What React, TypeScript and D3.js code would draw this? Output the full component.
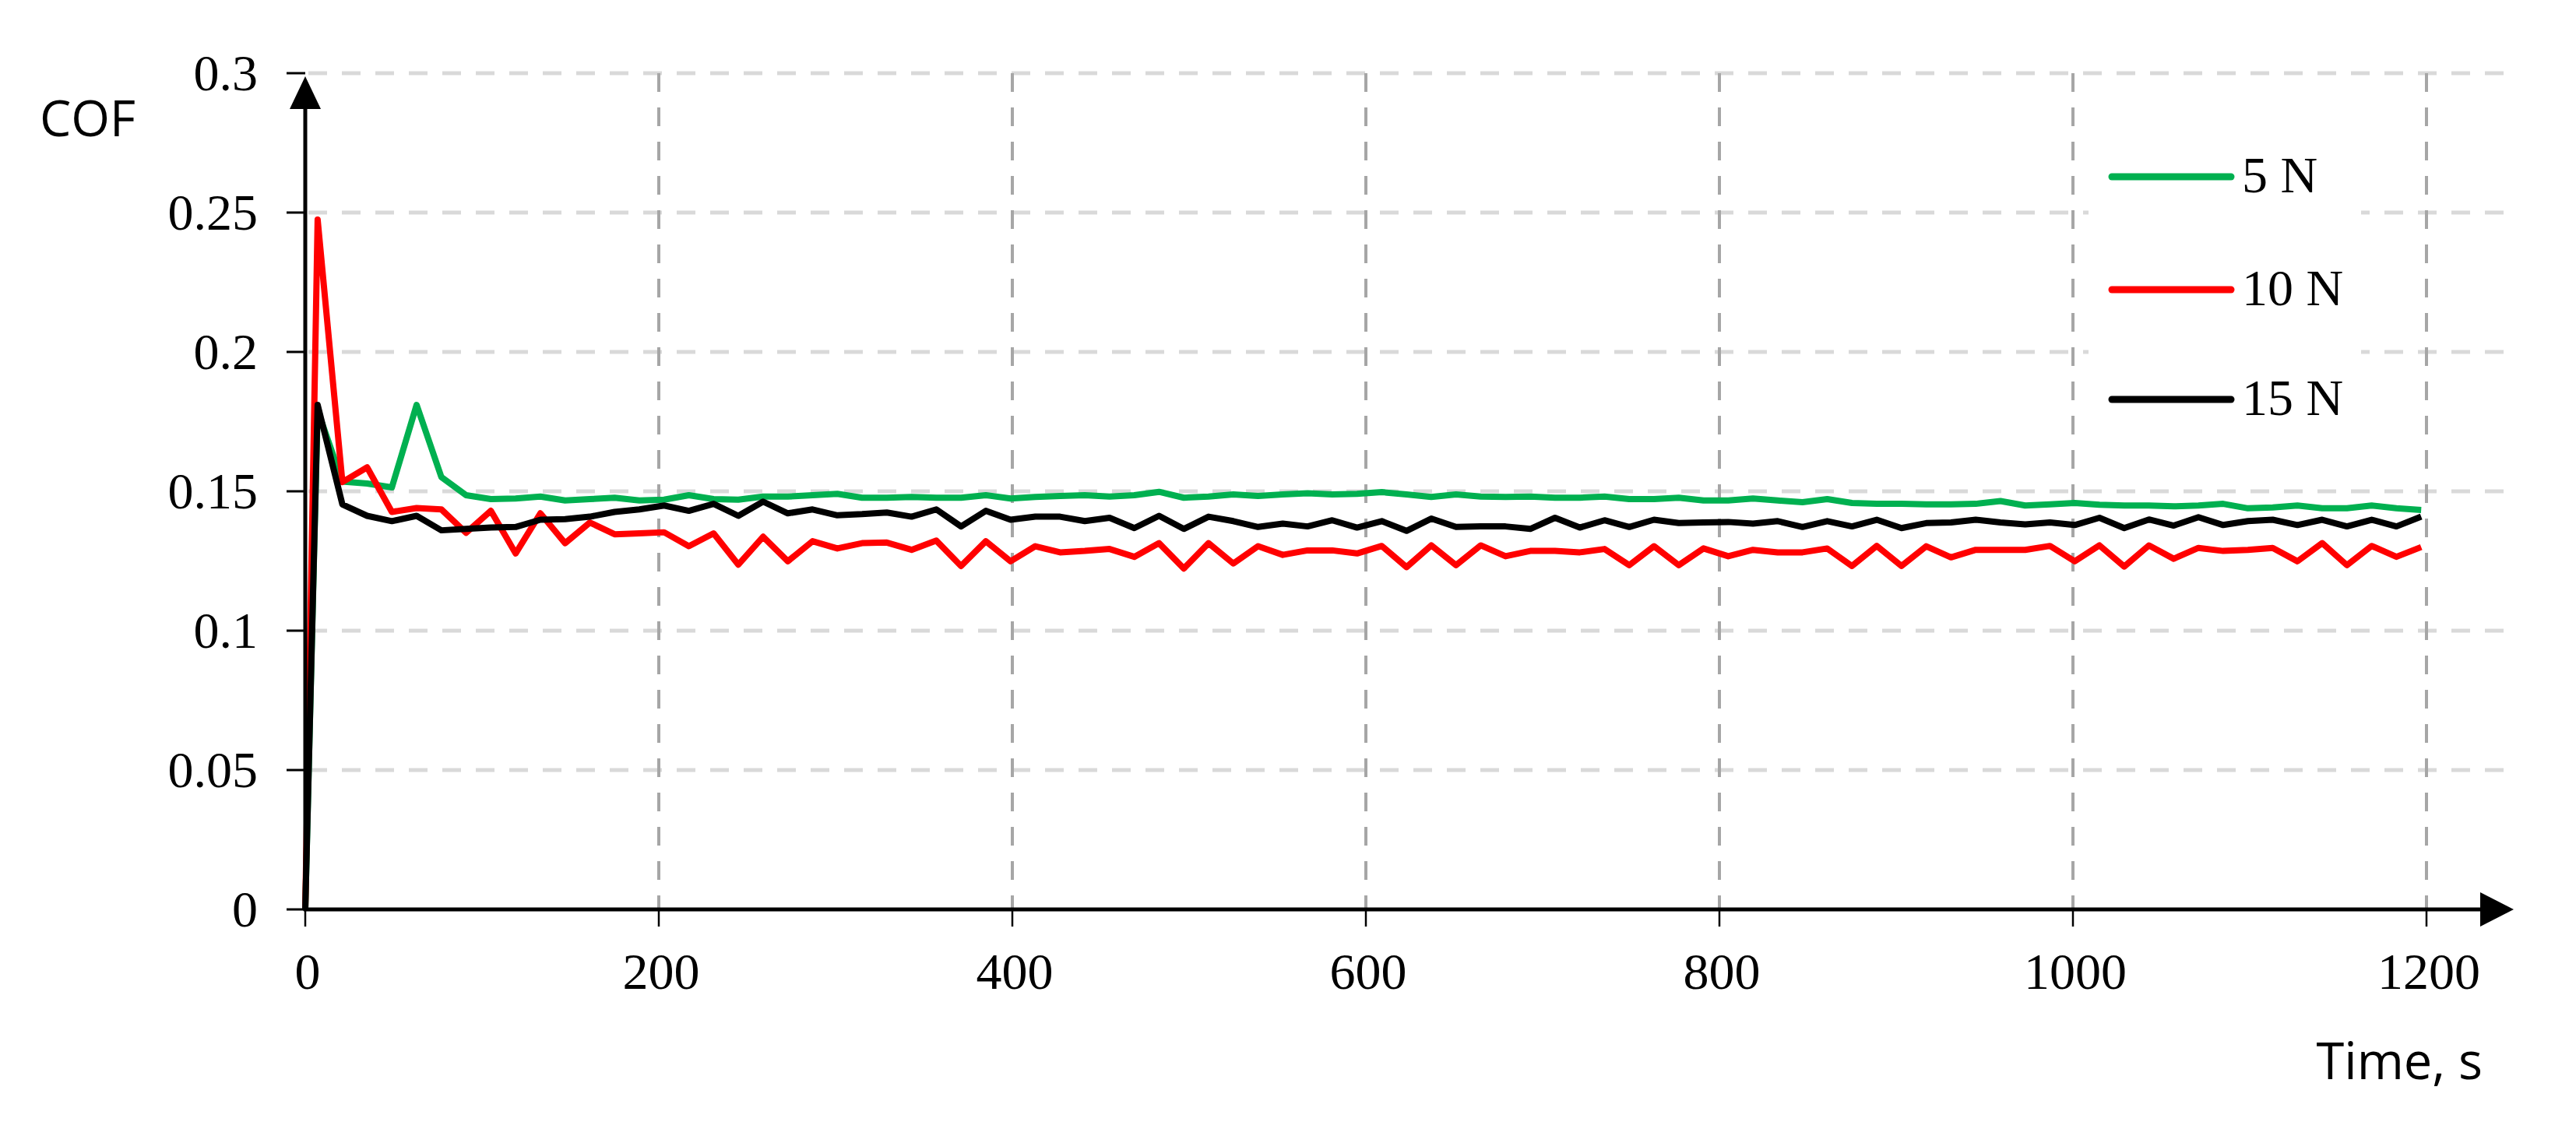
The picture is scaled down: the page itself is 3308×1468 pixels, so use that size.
import * as d3 from "d3";
import { useEffect, useRef } from "react";

// sample times, s
const times = [0, 7, 21, 35, 49, 63, 77, 91, 105, 119, 133, 147, 161, 175, 189, 203, 217, 231, 245, 259, 273, 287, 301, 315, 329, 343, 357, 371, 385, 399,
  413, 427, 441, 455, 469, 483, 497, 511, 525, 539, 553, 567, 581, 595, 609, 623, 637, 651, 665, 679, 693, 707, 721, 735, 749, 763, 777, 791, 805,
  819, 833, 847, 861, 875, 889, 903, 917, 931, 945, 959, 973, 987, 1001, 1015, 1029, 1043, 1057, 1071, 1085, 1099, 1113, 1127, 1141, 1155, 1169, 1183, 1197];

const cof5N = [0, 0.179, 0.1535, 0.1528, 0.1514, 0.181, 0.1551, 0.1486, 0.1472, 0.1474, 0.1481, 0.1467, 0.1472, 0.1477, 0.1467, 0.147, 0.1486, 0.1472, 0.147, 0.1481, 0.1481, 0.1486, 0.1491, 0.1477, 0.1477, 0.148, 0.1477, 0.1477, 0.1486, 0.1474,
  0.148, 0.1483, 0.1486, 0.1481, 0.1486, 0.1498, 0.1477, 0.1481, 0.1489, 0.1483, 0.1489, 0.1493, 0.1489, 0.1491, 0.1497, 0.1489, 0.148, 0.1489, 0.1481, 0.148, 0.1481, 0.1477, 0.1477, 0.1481, 0.1472, 0.1472, 0.1477, 0.1467, 0.1467,
  0.1474, 0.1467, 0.1461, 0.1472, 0.1458, 0.1455, 0.1455, 0.1453, 0.1453, 0.1455, 0.1465, 0.1449, 0.1453, 0.1458, 0.1452, 0.1449, 0.1449, 0.1446, 0.1449, 0.1455, 0.1439, 0.1442, 0.1449, 0.1439, 0.1439, 0.1449, 0.1439, 0.1433];

const cof10N = [0, 0.2475, 0.1533, 0.1586, 0.1426, 0.144, 0.1435, 0.1351, 0.143, 0.1277, 0.1421, 0.1314, 0.1388, 0.1346, 0.1349, 0.1353, 0.1303, 0.1349, 0.1237, 0.1337, 0.1249, 0.1321, 0.1295, 0.1314, 0.1316, 0.129, 0.1323, 0.1232, 0.1321, 0.1249,
  0.1303, 0.1281, 0.1286, 0.1293, 0.1265, 0.1314, 0.1223, 0.1314, 0.1241, 0.1303, 0.1272, 0.1288, 0.1288, 0.1277, 0.1304, 0.1228, 0.1306, 0.1235, 0.1306, 0.1267, 0.1286, 0.1286, 0.1281, 0.1293, 0.1235, 0.1303, 0.1235, 0.1295, 0.1267,
  0.129, 0.1281, 0.1281, 0.1295, 0.1232, 0.1304, 0.1232, 0.1303, 0.1263, 0.129, 0.129, 0.129, 0.1304, 0.1249, 0.1306, 0.123, 0.1306, 0.1258, 0.1297, 0.1286, 0.129, 0.1297, 0.1249, 0.1314, 0.1235, 0.1304, 0.1265, 0.13];

const cof15N = [0, 0.181, 0.1453, 0.1412, 0.1393, 0.1412, 0.136, 0.1365, 0.137, 0.1372, 0.1398, 0.14, 0.1409, 0.1426, 0.1435, 0.1449, 0.143, 0.1455, 0.1412, 0.1463, 0.1421, 0.1435, 0.1414, 0.1418, 0.1424, 0.1409, 0.1435, 0.1374, 0.143, 0.1398,
  0.1409, 0.1409, 0.1393, 0.1405, 0.1368, 0.1412, 0.1365, 0.1409, 0.1393, 0.1372, 0.1384, 0.1374, 0.1396, 0.137, 0.1393, 0.1358, 0.1402, 0.1372, 0.1374, 0.1374, 0.1365, 0.1405, 0.137, 0.1396, 0.1372, 0.1398, 0.1386, 0.1388, 0.139,
  0.1384, 0.1393, 0.1372, 0.1393, 0.1374, 0.1398, 0.1368, 0.1386, 0.1388, 0.1398, 0.1388, 0.1381, 0.1388, 0.1379, 0.1405, 0.1368, 0.1399, 0.1377, 0.1407, 0.1379, 0.1393, 0.1398, 0.1379, 0.1398, 0.1374, 0.1398, 0.1374, 0.1409];

const seriesNames = ["5 N", "10 N", "15 N"];
const seriesColors = ["#00b050", "#ff0000", "#000000"];

const yTicks = [0, 0.05, 0.1, 0.15, 0.2, 0.25, 0.3];
const yTickLabels = ["0", "0.05", "0.1", "0.15", "0.2", "0.25", "0.3"];
const xTicks = [0, 200, 400, 600, 800, 1000, 1200];

export default function App() {
  const ref = useRef<SVGSVGElement>(null);

  useEffect(() => {
    const svg = d3.select(ref.current);
    svg.selectAll("*").remove();

    const width = 3308;
    const height = 1468;
    svg.attr("width", width).attr("height", height);

    const x = d3.scaleLinear().domain([0, 1200]).range([392, 3116]);
    const y = d3.scaleLinear().domain([0, 0.3]).range([1168, 94]);
    const gridRight = 3232;

    const serif = "'Liberation Serif', 'Times New Roman', serif";
    const sans = "'Open Sans', 'Noto Sans', sans-serif";

    svg.append("rect").attr("width", width).attr("height", height).attr("fill", "white");

    // horizontal grid
    svg.append("g")
      .selectAll("line")
      .data(yTicks.filter(d => d > 0))
      .join("line")
      .attr("x1", x(0) + 4)
      .attr("x2", gridRight)
      .attr("y1", d => y(d))
      .attr("y2", d => y(d))
      .attr("stroke", "#d9d9d9")
      .attr("stroke-width", 5)
      .attr("stroke-dasharray", "24 19");

    // vertical grid
    svg.append("g")
      .selectAll("line")
      .data(xTicks.filter(d => d > 0))
      .join("line")
      .attr("x1", d => x(d))
      .attr("x2", d => x(d))
      .attr("y1", y(0.3))
      .attr("y2", y(0))
      .attr("stroke", "#a6a6a6")
      .attr("stroke-width", 4)
      .attr("stroke-dasharray", "24 20");

    // legend background hides the grid
    svg.append("rect")
      .attr("x", 2682).attr("y", 150)
      .attr("width", 350).attr("height", 430)
      .attr("fill", "white");

    // series
    const allSeries = [cof5N, cof10N, cof15N];
    const line = d3.line<number>()
      .x((d, i) => x(times[i]))
      .y(d => y(d));

    svg.append("g")
      .selectAll("path")
      .data(allSeries)
      .join("path")
      .attr("d", d => line(d))
      .attr("fill", "none")
      .attr("stroke", (d, i) => seriesColors[i])
      .attr("stroke-width", 8)
      .attr("stroke-linejoin", "round");

    // axes
    const axes = svg.append("g");
    axes.append("line")
      .attr("x1", x(0)).attr("x2", x(0))
      .attr("y1", y(0) + 2).attr("y2", 130)
      .attr("stroke", "black").attr("stroke-width", 5);
    axes.append("path")
      .attr("d", `M${x(0)},98 L${x(0) - 20},140 L${x(0) + 20},140 Z`)
      .attr("fill", "black");
    axes.append("line")
      .attr("x1", x(0) - 2).attr("x2", 3195)
      .attr("y1", y(0)).attr("y2", y(0))
      .attr("stroke", "black").attr("stroke-width", 5);
    axes.append("path")
      .attr("d", `M3228,${y(0)} L3185,${y(0) - 22} L3185,${y(0) + 22} Z`)
      .attr("fill", "black");

    // y ticks
    const yAxis = svg.append("g");
    yAxis.selectAll("line")
      .data(yTicks)
      .join("line")
      .attr("x1", x(0) - 24).attr("x2", x(0))
      .attr("y1", d => y(d)).attr("y2", d => y(d))
      .attr("stroke", "black").attr("stroke-width", 3);
    yAxis.selectAll("text")
      .data(yTicks)
      .join("text")
      .attr("x", 331)
      .attr("y", d => y(d) + 22)
      .attr("text-anchor", "end")
      .style("font-family", serif)
      .style("font-size", "66px")
      .text((d, i) => yTickLabels[i]);

    // x ticks
    const xAxis = svg.append("g");
    xAxis.selectAll("line")
      .data(xTicks)
      .join("line")
      .attr("x1", d => x(d)).attr("x2", d => x(d))
      .attr("y1", y(0)).attr("y2", y(0) + 22)
      .attr("stroke", "black").attr("stroke-width", 2.5);
    xAxis.selectAll("text")
      .data(xTicks)
      .join("text")
      .attr("x", d => x(d) + 3)
      .attr("y", 1270)
      .attr("text-anchor", "middle")
      .style("font-family", serif)
      .style("font-size", "66px")
      .text(d => String(d));

    // axis titles
    svg.append("text")
      .attr("x", 51).attr("y", 175)
      .style("font-family", sans)
      .style("font-size", "64px")
      .text("COF");
    svg.append("text")
      .attr("x", 3188).attr("y", 1386)
      .attr("text-anchor", "end")
      .style("font-family", sans)
      .style("font-size", "65px")
      .text("Time, s");

    // legend
    const legendY = [227, 372, 513];
    const legend = svg.append("g");
    legend.selectAll("line")
      .data(seriesNames)
      .join("line")
      .attr("x1", 2712).attr("x2", 2865)
      .attr("y1", (d, i) => legendY[i]).attr("y2", (d, i) => legendY[i])
      .attr("stroke", (d, i) => seriesColors[i])
      .attr("stroke-width", 9)
      .attr("stroke-linecap", "round");
    legend.selectAll("text")
      .data(seriesNames)
      .join("text")
      .attr("x", 2879)
      .attr("y", (d, i) => legendY[i] + 20)
      .style("font-family", serif)
      .style("font-size", "66px")
      .text(d => d);
  }, []);

  return (
    <svg
      ref={ref}
      style={{ position: "absolute", left: 0, top: 0, display: "block" }}
    ></svg>
  );
}
